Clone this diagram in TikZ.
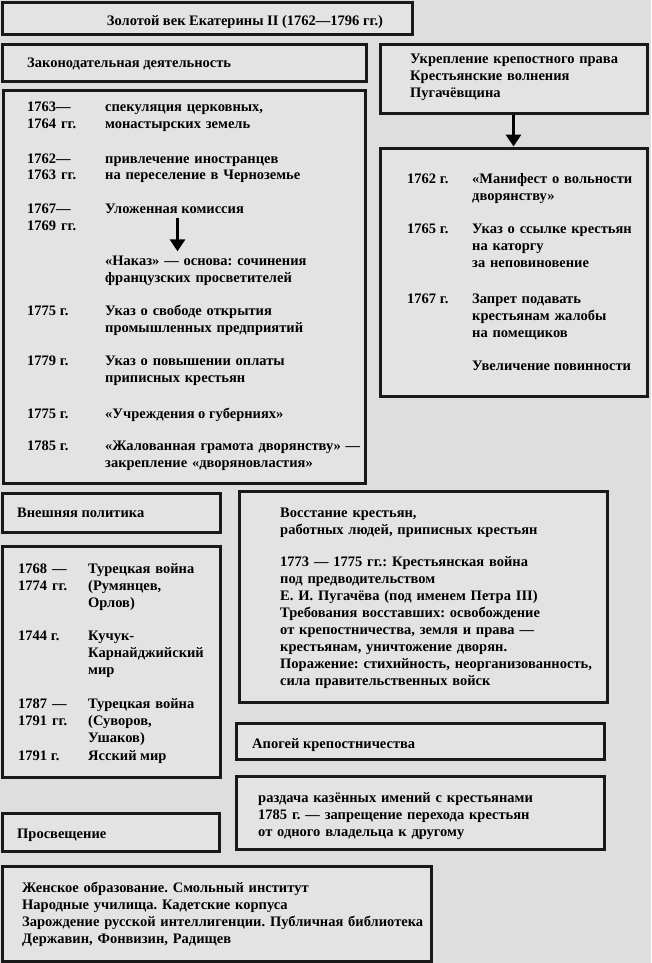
\documentclass[tikz,border=0pt]{standalone}
\usepackage{fontspec}
\setmainfont{Liberation Serif}
\usetikzlibrary{arrows.meta, fit}

\definecolor{fon}{RGB}{222,222,222}
\definecolor{ramka}{RGB}{227,227,227}

\tikzset{
  frame/.style={draw=black!90, line width=3pt, fill=ramka, inner sep=0pt},
  txt/.style={inner sep=0pt, anchor=base west, font=\fontsize{14.5}{17}\selectfont\bfseries\frenchspacing},
  block/.style={txt, text width=#1, align=left},
  block/.default=300pt,
  strelka/.style={line width=3pt, -{Triangle[length=12pt,width=15pt]}}
}

\begin{document}
\begin{tikzpicture}[x=1pt, y=-1pt]
    \useasboundingbox (0,0) rectangle (651,963);
    \fill[fon] (0,0) rectangle (651,963);

    % 1. Рамки
    \node[frame, fit={(2.5,2.5) (412,35)}] (title) {};
    \node[frame, fit={(2.5,45) (366,82)}] (zakon) {};
    \node[frame, fit={(3,91) (365,483)}] (zakonlist) {};
    \node[frame, fit={(380,45) (647,114)}] (ukrep) {};
    \node[frame, fit={(380,148) (647,396)}] (ukreplist) {};
    \node[frame, fit={(2.5,493) (220,532)}] (vnesh) {};
    \node[frame, fit={(2.5,546) (220,777)}] (vneshlist) {};
    \node[frame, fit={(239,491) (607,702)}] (vosst) {};
    \node[frame, fit={(236,723) (604,759)}] (apogei) {};
    \node[frame, fit={(236,776) (604,849)}] (apogeilist) {};
    \node[frame, fit={(2.5,813) (219,851)}] (prosv) {};
    \node[frame, fit={(2.5,866) (431,961)}] (prosvlist) {};

    % 2. Заголовки
    \node[txt, anchor=base] (titletxt) at (245,26) {Золотой век Екатерины II (1762—1796 гг.)};
    \node[txt] (zakontxt) at (27,68) {Законодательная деятельность};
    \node[block] (ukreptxt) at (410,64) {Укрепление крепостного права\\Крестьянские волнения\\Пугачёвщина};
    \node[txt] (vneshtxt) at (17,517) {Внешняя политика};
    \node[txt] (apogeitxt) at (252,748) {Апогей крепостничества};
    \node[txt] (prosvtxt) at (17,838) {Просвещение};

    % 3. Законодательная деятельность
    \node[block] (z1god) at (27,112) {1763—\\1764 гг.};
    \node[block] (z1) at (105,112) {спекуляция церковных,\\монастырских земель};
    \node[block] (z2god) at (27,163) {1762—\\1763 гг.};
    \node[block] (z2) at (105,163) {привлечение иностранцев\\на переселение в Черноземье};
    \node[block] (z3god) at (27,213) {1767—\\1769 гг.};
    \node[txt] (ulozh) at (105,213) {Уложенная комиссия};
    \node[block] (nakaz) at (105,265) {«Наказ» — основа: сочинения\\французских просветителей};
    \node[txt] (z4god) at (27,315) {1775 г.};
    \node[block] (z4) at (105,315) {Указ о свободе открытия\\промышленных предприятий};
    \node[txt] (z5god) at (27,365) {1779 г.};
    \node[block] (z5) at (105,365) {Указ о повышении оплаты\\приписных крестьян};
    \node[txt] (z6god) at (27,418) {1775 г.};
    \node[txt] (z6) at (105,418) {«Учреждения о губерниях»};
    \node[txt] (z7god) at (27,450) {1785 г.};
    \node[block] (z7) at (105,450) {«Жалованная грамота дворянству» —\\закрепление «дворяновластия»};

    % 4. Крепостное право
    \node[txt] (k1god) at (407,183) {1762 г.};
    \node[block] (k1) at (472,183) {«Манифест о вольности\\дворянству»};
    \node[txt] (k2god) at (407,233) {1765 г.};
    \node[block] (k2) at (472,233) {Указ о ссылке крестьян\\на каторгу\\за неповиновение};
    \node[txt] (k3god) at (407,303) {1767 г.};
    \node[block] (k3) at (472,303) {Запрет подавать\\крестьянам жалобы\\на помещиков};
    \node[txt] (k4) at (472,370) {Увеличение повинности};

    % 5. Внешняя политика
    \node[block] (v1god) at (18,573) {1768 —\\1774 гг.};
    \node[block] (v1) at (88,573) {Турецкая война\\(Румянцев,\\Орлов)};
    \node[txt] (v2god) at (18,640) {1744 г.};
    \node[block] (v2) at (88,640) {Кучук-\\Карнайджийский\\мир};
    \node[block] (v3god) at (18,708) {1787 —\\1791 гг.};
    \node[block] (v3) at (88,708) {Турецкая война\\(Суворов,\\Ушаков)};
    \node[txt] (v4god) at (18,760) {1791 г.};
    \node[txt] (v4) at (88,760) {Ясский мир};

    % 6. Восстание, апогей, просвещение
    \node[block=340pt] (vossttxt) at (280,517) {Восстание крестьян,\\работных людей, приписных крестьян\\[15pt]1773 — 1775 гг.: Крестьянская война\\под предводительством\\Е. И. Пугачёва (под именем Петра III)\\Требования восставших: освобождение\\от крепостничества, земля и права —\\крестьянам, уничтожение дворян.\\Поражение: стихийность, неорганизованность,\\сила правительственных войск};
    \node[block] (razdacha) at (258,802) {раздача казённых имений с крестьянами\\1785 г. — запрещение перехода крестьян\\от одного владельца к другому};
    \node[block=420pt] (zhensk) at (22,892) {Женское образование. Смольный институт\\Народные училища. Кадетские корпуса\\Зарождение русской интеллигенции. Публичная библиотека\\Державин, Фонвизин, Радищев};

    % 7. Стрелки
    \coordinate (strverh) at ([xshift=3pt]ulozh.south);
    \draw[strelka, shorten <=5pt, shorten >=4pt] (strverh) -- (strverh |- nakaz.north);
    \draw[strelka] (ukrep.south) -- (ukreplist.north);
\end{tikzpicture}
\end{document}
